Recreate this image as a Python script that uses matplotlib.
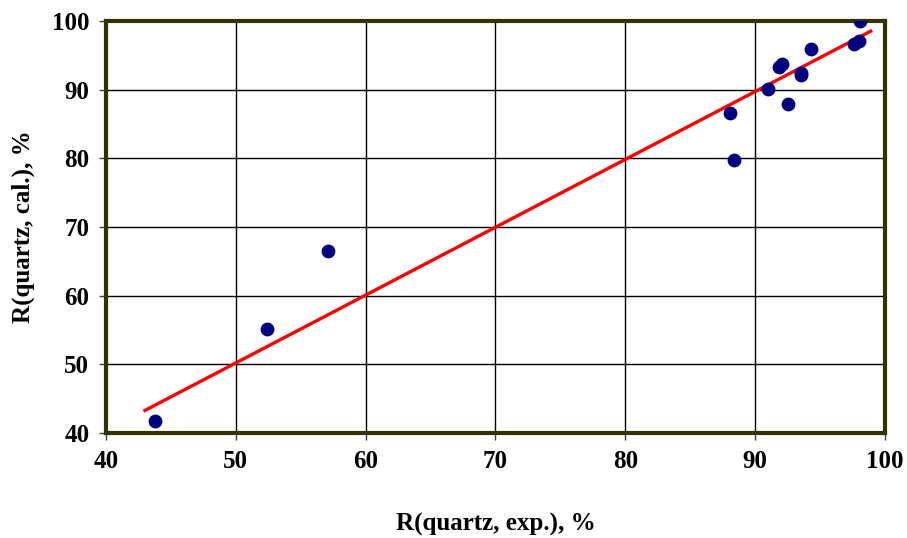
import numpy as np
import matplotlib.pyplot as plt

# experimental vs calculated quartz recovery, %
r_exp = [43.8, 52.4, 57.1, 88.1, 88.4, 91.0, 91.8, 92.1, 92.5, 93.5, 93.5,
         94.3, 97.6, 98.0, 98.1]
r_cal = [41.7, 55.1, 66.5, 86.6, 79.7, 90.1, 93.3, 93.7, 87.9, 92.4, 92.1,
         95.9, 96.6, 97.1, 100.0]

# linear trendline as drawn in the original (slope, intercept, x range)
trend_k = 0.988
trend_b = 0.8
trend_x = [43.0, 98.9]

x_fit = np.array(trend_x)
y_fit = trend_k * x_fit + trend_b

plt.rcParams['font.family'] = ['Liberation Serif', 'DejaVu Serif']
plt.rcParams['font.weight'] = 'bold'

fig = plt.figure(figsize=(9.07, 5.38), dpi=100)
ax = fig.add_axes([0.1169, 0.1952, 0.8588, 0.7658])

ax.grid(True, color='black', linewidth=1.0)
ax.set_axisbelow(True)
ax.plot(x_fit, y_fit, color='red', linewidth=2.4, zorder=3)
ax.scatter(r_exp, r_cal, s=80, color='#000080', zorder=4)

ax.set_xlim(40, 100)
ax.set_ylim(40, 100)
ax.set_xticks(range(40, 101, 10))
ax.set_yticks(range(40, 101, 10))
ax.tick_params(labelsize=18, length=5, width=1, direction='out', pad=7,
               color='#404040')
for s in ax.spines.values():
    s.set_color('#333300')
    s.set_linewidth(3)
ax.set_xlabel('R(quartz, exp.), %', fontsize=18, fontweight='bold', labelpad=29)
ax.set_ylabel('R(quartz, cal.), %', fontsize=18, fontweight='bold', labelpad=12)
for lab in ax.get_xticklabels() + ax.get_yticklabels():
    lab.set_fontweight('bold')

fig.savefig('out.png', dpi=100)
